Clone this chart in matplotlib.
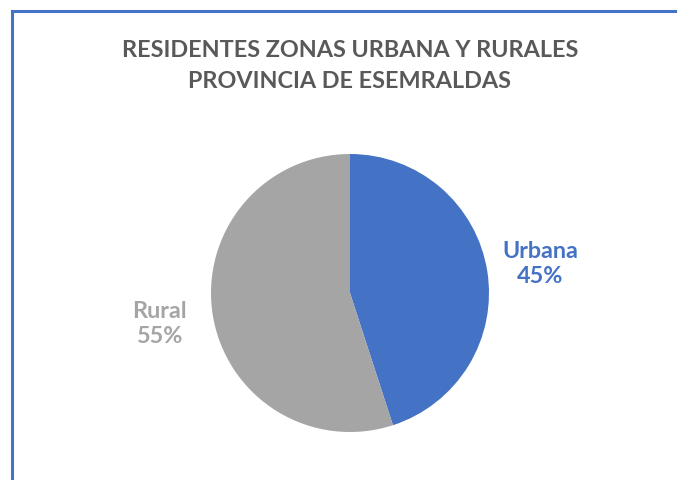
import matplotlib
matplotlib.use("Agg")
import matplotlib.pyplot as plt
import numpy as np

categories = ["Urbana", "Rural"]
values = [45, 55]
colors = ["#4472C4", "#A5A5A5"]
title = "RESIDENTES ZONAS URBANA Y RURALES\nPROVINCIA DE ESEMRALDAS"

W, H = 677, 481
fig = plt.figure(figsize=(W / 100, H / 100), dpi=100)
ax = fig.add_axes([0, 0, 1, 1])

# border (top and left visible)
ax.plot([12, 12, W + 5], [-5, H - 12, H - 12], color="#4472C4", lw=2.2,
        solid_capstyle="butt", solid_joinstyle="miter")

cx, cy, r = 350, H - 294, 139
wedges, _ = ax.pie(values, colors=colors, startangle=90, counterclock=False,
                   center=(cx, cy), radius=r, frame=True,
                   wedgeprops=dict(linewidth=0))
ax.set_xlim(0, W)
ax.set_ylim(0, H)
ax.set_aspect("equal")
ax.axis("off")

for w, cat, v, c in zip(wedges, categories, values, colors):
    mid = np.deg2rad((w.theta1 + w.theta2) / 2)
    d = 1.385 * r
    x = cx + d * np.cos(mid)
    y = cy + d * np.sin(mid)
    ax.text(x, y, f"{cat}\n{v}%", ha="center", va="center", color=c,
            fontsize=16.8, fontweight="bold", family="Lato", linespacing=1.2)

ax.text(350, H - 66, title, ha="center", va="center", color="#595959",
        fontsize=16.8, fontweight="bold", family="Lato", linespacing=1.6)

fig.savefig("out.png", dpi=100)
